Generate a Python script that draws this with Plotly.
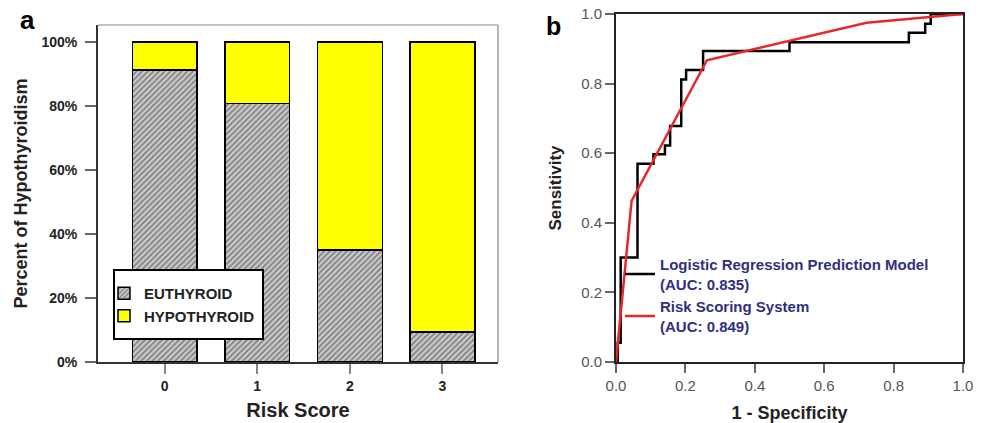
import plotly.graph_objects as go

# ---------------- data ----------------
risk_scores = [0, 1, 2, 3]
euthyroid_pct = [91.2, 80.8, 35.0, 9.3]
hypothyroid_pct = [100 - v for v in euthyroid_pct]
pct_ticks = [0, 20, 40, 60, 80, 100]

# ROC: logistic regression (step curve, corner points for 'hv' shape)
lr_fpr = [0.0, 0.005, 0.0135, 0.062, 0.108, 0.141, 0.156, 0.188, 0.202, 0.251, 0.500, 0.844, 0.891, 0.907, 1.0]
lr_tpr = [0.0, 0.055, 0.300, 0.570, 0.597, 0.622, 0.678, 0.812, 0.839, 0.894, 0.919, 0.946, 0.972, 1.000, 1.0]
# ROC: risk scoring system
rs_fpr = [0.0, 0.045, 0.262, 0.722, 1.0]
rs_tpr = [0.0, 0.463, 0.867, 0.975, 1.0]
roc_ticks = [0.0, 0.2, 0.4, 0.6, 0.8, 1.0]

FONT = "Arial, Liberation Sans, sans-serif"
W, H = 986, 423

def px(x):
    return x / W

def py(y):
    return 1 - y / H

fig = go.Figure()

fig.add_trace(go.Bar(
    x=risk_scores, y=euthyroid_pct, name="EUTHYROID", width=0.70,
    marker=dict(color="#cccccc", line=dict(color="black", width=1.5),
                pattern=dict(shape="/", fgcolor="#333333", bgcolor="#cccccc", size=4, solidity=0.45)),
    xaxis="x", yaxis="y", legend="legend",
))
fig.add_trace(go.Bar(
    x=risk_scores, y=hypothyroid_pct, name="HYPOTHYROID", width=0.70,
    marker=dict(color="#ffff00", line=dict(color="black", width=1.5)),
    xaxis="x", yaxis="y", legend="legend",
))

fig.add_trace(go.Scatter(
    x=lr_fpr, y=lr_tpr, mode="lines", line=dict(color="black", width=2.5, shape="hv"),
    name="Logistic Regression Prediction Model<br>(AUC: 0.835)",
    xaxis="x2", yaxis="y2", legend="legend2",
))
fig.add_trace(go.Scatter(
    x=rs_fpr, y=rs_tpr, mode="lines", line=dict(color="#e5282c", width=2.5),
    name="Risk Scoring System<br>(AUC: 0.849)",
    xaxis="x2", yaxis="y2", legend="legend2",
))

fig.update_layout(
    width=W, height=H, margin=dict(l=0, r=0, t=0, b=0, autoexpand=False),
    paper_bgcolor="white", plot_bgcolor="white",
    barmode="stack", bargap=0.3,
    font=dict(family=FONT),
    xaxis=dict(
        domain=[px(98), px(498)], range=[-0.72, 3.6],
        tickvals=risk_scores, ticktext=[f"<b>{v}</b>" for v in risk_scores],
        ticks="outside", ticklen=10, tickcolor="#888", tickwidth=1.5,
        showline=True, linecolor="#333", linewidth=2, showgrid=False, zeroline=False,
        tickfont=dict(family=FONT, size=14, color="#222"),
        title=dict(text="<b>Risk Score</b>", font=dict(family=FONT, size=20, color="#222"), standoff=10),
        anchor="y", fixedrange=True, automargin=False,
    ),
    yaxis=dict(
        domain=[py(362), py(25)], range=[0, 105.3],
        tickvals=pct_ticks, ticktext=[f"<b>{v}%</b>" for v in pct_ticks],
        ticks="outside", ticklen=11, tickcolor="#666", tickwidth=1.5, ticklabelstandoff=5,
        showline=True, linecolor="#333", linewidth=2, showgrid=False, zeroline=False,
        tickfont=dict(family=FONT, size=14, color="#222"),
        title=dict(text="<b>Percent of Hypothyroidism</b>", font=dict(family=FONT, size=18, color="#222"), standoff=9),
        anchor="x", fixedrange=True, automargin=False,
    ),
    xaxis2=dict(
        domain=[px(616), px(963)], range=[0, 1],
        tickvals=roc_ticks, ticktext=[f"{v:.1f}" for v in roc_ticks],
        ticks="outside", ticklen=9, tickcolor="#666", tickwidth=1.5,
        showline=True, mirror=True, linecolor="#222", linewidth=2, showgrid=False, zeroline=False,
        tickfont=dict(family=FONT, size=15, color="#555"),
        title=dict(text="<b>1 - Specificity</b>", font=dict(family=FONT, size=18, color="#222"), standoff=13),
        anchor="y2", fixedrange=True, automargin=False,
    ),
    yaxis2=dict(
        domain=[py(362), py(14)], range=[0, 1],
        tickvals=roc_ticks, ticktext=[f"{v:.1f}" for v in roc_ticks],
        ticks="outside", ticklen=9, tickcolor="#666", tickwidth=1.5,
        showline=True, mirror=True, linecolor="#222", linewidth=2, showgrid=False, zeroline=False,
        tickfont=dict(family=FONT, size=15, color="#555"),
        title=dict(text="<b>Sensitivity</b>", font=dict(family=FONT, size=17, color="#222"), standoff=15),
        anchor="x2", fixedrange=True, automargin=False,
    ),
    legend=dict(
        x=px(104), y=py(277), xanchor="left", yanchor="top",
        bgcolor="rgba(0,0,0,0)", borderwidth=0,
        font=dict(family=FONT, size=15, color="#222", weight="bold"),
        tracegroupgap=0, itemwidth=30, traceorder="normal",
    ),
    legend2=dict(
        x=px(620), y=py(248), xanchor="left", yanchor="top",
        bgcolor="rgba(0,0,0,0)", borderwidth=0,
        font=dict(family=FONT, size=15, color="#30307e", weight="bold"),
        tracegroupgap=0, itemwidth=30, traceorder="normal", valign="middle",
    ),
    showlegend=True,
)

# frame of panel a (top and right thin grey lines) and legend box
fig.add_shape(type="line", xref="paper", yref="paper", x0=px(98), x1=px(498), y0=py(25), y1=py(25),
              line=dict(color="#888", width=1.2))
fig.add_shape(type="line", xref="paper", yref="paper", x0=px(498), x1=px(498), y0=py(25), y1=py(362),
              line=dict(color="#888", width=1.2))
fig.add_shape(type="rect", xref="paper", yref="paper", x0=px(114), x1=px(263), y0=py(270), y1=py(339),
              line=dict(color="black", width=2), fillcolor="white", layer="above")

# panel labels
fig.add_annotation(text="<b>a</b>", xref="paper", yref="paper", x=px(27), y=py(20),
                   xanchor="center", yanchor="middle",
                   showarrow=False, font=dict(family=FONT, size=26, color="black"))
fig.add_annotation(text="<b>b</b>", xref="paper", yref="paper", x=px(553), y=py(26),
                   xanchor="center", yanchor="middle",
                   showarrow=False, font=dict(family=FONT, size=25, color="black"))

fig.write_html("out.html", config={"displayModeBar": False},
               post_script="document.body.style.margin='0';")
